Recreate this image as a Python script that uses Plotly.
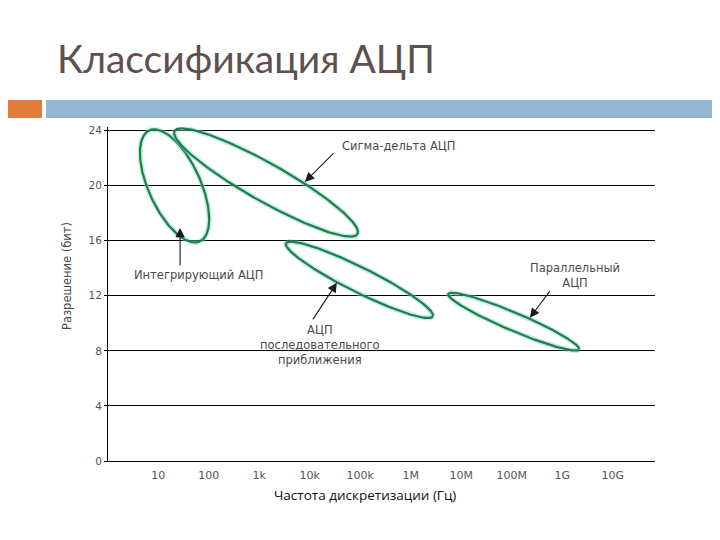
import numpy as np
import plotly.graph_objects as go

# ---------------- data ----------------
tick_freqs = [1e1, 1e2, 1e3, 1e4, 1e5, 1e6, 1e7, 1e8, 1e9, 1e10]
tick_labels = ["10", "100", "1k", "10k", "100k", "1M", "10M", "100M", "1G", "10G"]
bit_ticks = [0, 4, 8, 12, 16, 20, 24]

adc_names = ["Интегрирующий АЦП", "Сигма-дельта АЦП",
             "АЦП последовательного приближения", "Параллельный АЦП"]
# region centres (sample rate in Hz, resolution in bits)
center_freq = [21, 1.36e3, 9.6e4, 1.09e8]
center_bits = [19.98, 20.23, 13.16, 10.12]
# region outline: semi-axes (display px) and tilt (deg)
semi_major = [61, 105, 82, 71]
semi_minor = [26, 19, 12.5, 9]
tilt_deg = [-65.5, -29.4, -26.5, -23]

# arrow tips (Hz, bits) and label positions
arrow_freq = [27, 8.0e3, 3.44e4, 2.29e8]
arrow_bits = [16.93, 20.27, 12.94, 10.41]
arrow_dx = [0, 30, -25, 21]
arrow_dy = [39, -30, 38, -28]
label_text = ["Интегрирующий АЦП", "Сигма-дельта АЦП",
              "АЦП<br>последовательного<br>приближения", "Параллельный<br>АЦП"]
label_freq = [61.5, 3.98e4, 1.59e4, 1.82e9]
label_bits = [13.52, 22.88, 8.45, 13.45]
label_anchor = ["center", "left", "center", "center"]

# ---------------- layout geometry ----------------
OFF = 8  # page body margin of the html page
W, H = 720, 540
ML, MR, MT, MB = 108 - OFF, 65 + OFF, 127 - OFF, 79 + OFF
x_range = [0.004, 10.836]
y_range = [0, 24.26]
plot_w = W - ML - MR
plot_h = H - MT - MB
ppd = plot_w / (x_range[1] - x_range[0])   # px per decade
ppb = plot_h / (y_range[1] - y_range[0])   # px per bit


def px(xp):
    return (xp - OFF - ML) / plot_w


def py(yp):
    return (H - MB - (yp - OFF)) / plot_h


fig = go.Figure()

t = np.linspace(0, 2 * np.pi, 361)
for i, name in enumerate(adc_names):
    th = np.radians(tilt_deg[i])
    u = semi_major[i] * np.cos(t)
    v = semi_minor[i] * np.sin(t)
    dx = u * np.cos(th) - v * np.sin(th)
    dy = u * np.sin(th) + v * np.cos(th)
    xs = 10 ** (np.log10(center_freq[i]) + dx / ppd)
    ys = center_bits[i] + dy / ppb
    fig.add_trace(go.Scatter(x=xs, y=ys, mode="lines", name=name,
                             line=dict(color="rgba(120,215,175,0.45)", width=5),
                             hoverinfo="skip", showlegend=False))
    fig.add_trace(go.Scatter(x=xs, y=ys, mode="lines", name=name,
                             line=dict(color="#1f7d50", width=2.2),
                             showlegend=False))

annotations = []
for i in range(len(arrow_freq)):
    annotations.append(dict(x=np.log10(arrow_freq[i]), y=arrow_bits[i], xref="x", yref="y",
                            ax=arrow_dx[i], ay=arrow_dy[i], text="", showarrow=True,
                            arrowhead=2, arrowsize=1.7, arrowwidth=1.1, arrowcolor="#1a1a1a"))
    annotations.append(dict(x=np.log10(label_freq[i]), y=label_bits[i], xref="x", yref="y",
                            text=label_text[i], showarrow=False, xanchor=label_anchor[i],
                            yanchor="middle", align="center",
                            font=dict(family="DejaVu Sans", size=11.5, color="#4a4a4a")))

# axis titles
annotations.append(dict(x=px(67), y=py(276), xref="paper", yref="paper",
                        text="Разрешение (бит)", textangle=-90, showarrow=False,
                        xanchor="center", yanchor="middle",
                        font=dict(family="DejaVu Sans", size=11.5, color="#4a4a4a")))
annotations.append(dict(x=px(365), y=py(495), xref="paper", yref="paper",
                        text="Частота дискретизации (Гц)", showarrow=False,
                        xanchor="center", yanchor="middle",
                        font=dict(family="Open Sans", size=13.5, color="#111111")))
# slide title
annotations.append(dict(x=px(55), y=py(58), xref="paper", yref="paper",
                        text="Классификация АЦП", showarrow=False, xanchor="left",
                        yanchor="middle",
                        font=dict(family="Lato", size=39, color="#5e504c")))

shapes = [
    dict(type="rect", xref="paper", yref="paper", x0=px(0), x1=px(42), y0=py(100), y1=py(118),
         fillcolor="#e27b3b", line=dict(width=0), layer="above"),
    dict(type="rect", xref="paper", yref="paper", x0=px(46), x1=px(730), y0=py(100), y1=py(118),
         fillcolor="#93b5d4", line=dict(width=0), layer="above"),
]

fig.update_layout(
    width=W, height=H,
    margin=dict(l=ML, r=MR, t=MT, b=MB),
    paper_bgcolor="white", plot_bgcolor="white",
    annotations=annotations, shapes=shapes,
    showlegend=False,
    xaxis=dict(type="log", range=x_range, tickvals=tick_freqs, ticktext=tick_labels,
               showgrid=False, zeroline=False, showline=True, linecolor="#000", linewidth=1,
               ticks="", ticklabelstandoff=4,
               tickfont=dict(family="DejaVu Sans", size=11, color="#555")),
    yaxis=dict(range=y_range, tickvals=bit_ticks, showgrid=True, gridcolor="#000",
               gridwidth=1, zeroline=False, showline=True, linecolor="#000", linewidth=1,
               ticks="outside", ticklen=3, tickcolor="#000", ticklabelstandoff=0,
               tickfont=dict(family="DejaVu Sans", size=10.5, color="#555")),
)

fig.write_html("out.html")
